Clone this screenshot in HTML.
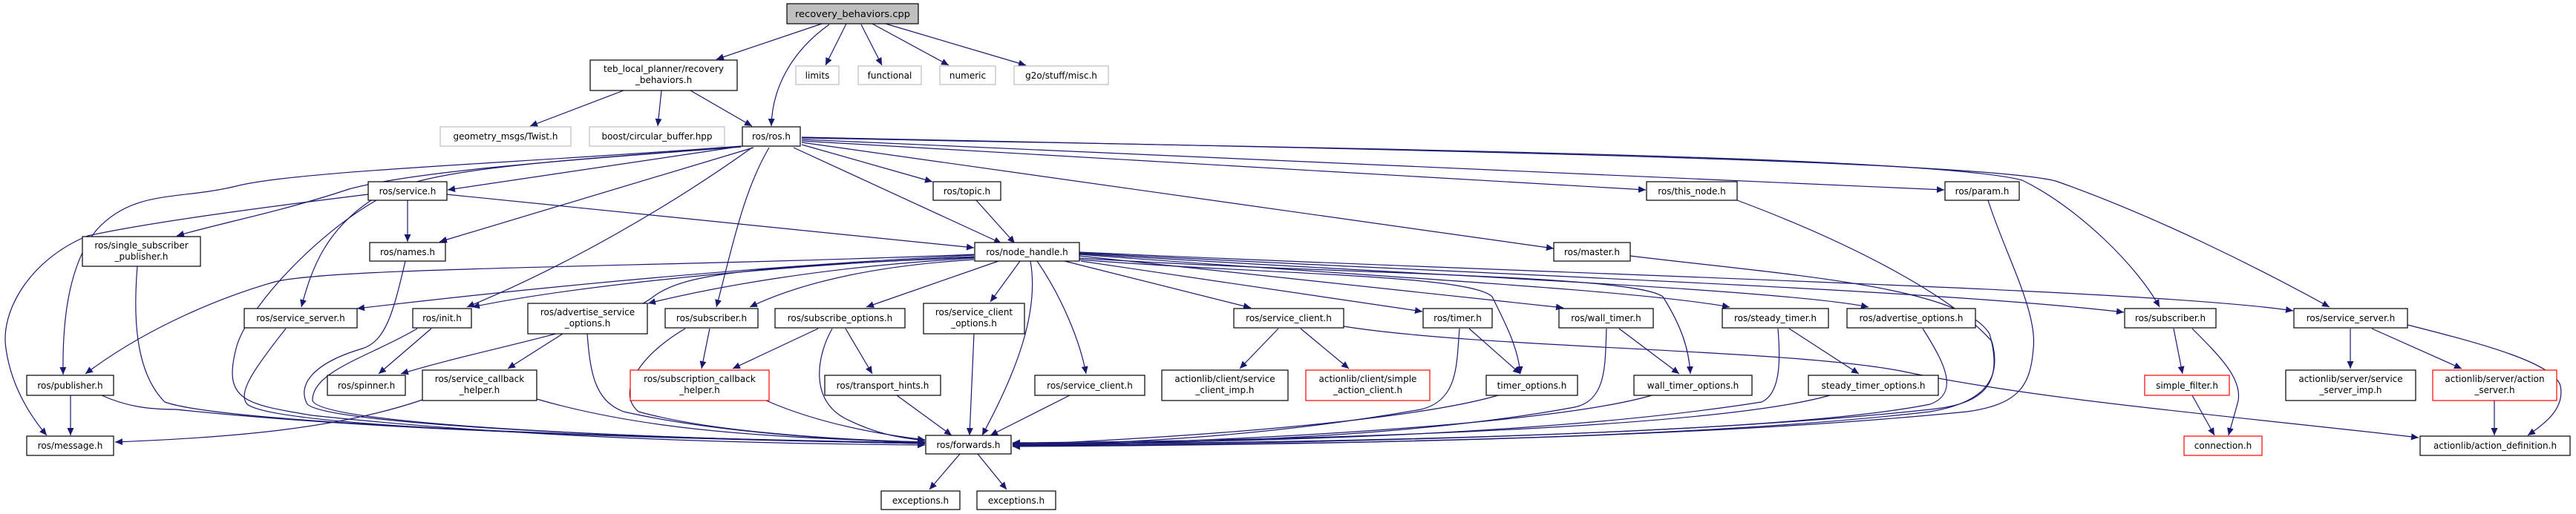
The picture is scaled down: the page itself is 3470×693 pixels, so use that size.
<!DOCTYPE html>
<html><head><meta charset="utf-8"><style>
html,body{margin:0;padding:0;background:#fff}
svg{display:block}
text{font-family:"DejaVu Sans","Liberation Sans",sans-serif;font-size:12px;fill:#000}
.e{fill:none;stroke:#191970;stroke-width:1.2}
.n{fill:#fff;stroke:#000;stroke-width:1.2}
.g{fill:#fff;stroke:#bfbfbf;stroke-width:1.2}
.r{fill:#fff;stroke:#ff0000;stroke-width:1.2}
</style></head><body>
<svg width="3470" height="693" viewBox="0 0 3470 693" xmlns="http://www.w3.org/2000/svg">
<defs><marker id="a" markerUnits="userSpaceOnUse" markerWidth="11" markerHeight="9" refX="10" refY="4.5" orient="auto"><path d="M0,0 L10,4.5 L0,9 z" fill="#191970"/></marker></defs>
<g marker-end="url(#a)">
<path class="e" d="M1107,32 L965,80"/>
<path class="e" d="M1117,33 C1065,70 1040,120 1039,170"/>
<path class="e" d="M1140,32 L1112,88"/>
<path class="e" d="M1160,33 L1188,88"/>
<path class="e" d="M1175,32 L1278,88"/>
<path class="e" d="M1193,32 L1382,88"/>
<path class="e" d="M840,122 L714,170"/>
<path class="e" d="M891,122 L886,170"/>
<path class="e" d="M930,122 L1013,170"/>
<path class="e" d="M1000,197 L603,256"/>
<path class="e" d="M1015,199 L592,326"/>
<path class="e" d="M998,198 C780,215 560,230 470,255 C380,285 300,300 238,318"/>
<path class="e" d="M998,197 C700,220 400,230 318,251 C240,270 180,255 130,310 C90,360 84,440 85,505"/>
<path class="e" d="M496,262 C350,280 200,300 118,318 C40,350 0,420 8,470 C15,520 40,560 63,587"/>
<path class="e" d="M998,198 C700,220 560,230 500,270 C440,310 420,360 406,414"/>
<path class="e" d="M601,262 L1312,334"/>
<path class="e" d="M507,270 C420,320 330,420 318,470 C300,540 330,545 420,560 C700,590 1000,598 1246,600"/>
<path class="e" d="M549,270 L549,326"/>
<path class="e" d="M1013,199 C900,280 760,360 629,414"/>
<path class="e" d="M1036,199 C1000,260 985,340 965,414"/>
<path class="e" d="M1069,199 L1349,328"/>
<path class="e" d="M1080,195 L1256,245"/>
<path class="e" d="M1315,270 L1367,328"/>
<path class="e" d="M1080,192 L2093,335"/>
<path class="e" d="M1080,190 L2217,256"/>
<path class="e" d="M1080,188 L2619,256"/>
<path class="e" d="M1080,186 C1800,200 2600,210 2724,243 C2800,280 2880,360 2909,414"/>
<path class="e" d="M1080,185 C1800,200 2650,215 2769,244 C2900,290 3040,360 3138,414"/>
<path class="e" d="M2340,270 C2500,330 2630,400 2683,460 C2700,520 2660,545 2600,555 C2300,590 1800,600 1364,601"/>
<path class="e" d="M2678,270 C2700,340 2745,420 2739,470 C2735,520 2720,545 2650,555 C2300,590 1800,600 1364,602"/>
<path class="e" d="M2196,345 C2400,370 2640,385 2680,450 C2700,520 2670,545 2600,552 C2300,585 1800,598 1364,601"/>
<path class="e" d="M2590,443 C2620,490 2640,530 2600,545 C2400,585 1800,597 1364,599"/>
<path class="e" d="M2395,443 C2398,480 2400,530 2373,542 C2100,585 1700,597 1364,598"/>
<path class="e" d="M2410,443 L2504,504"/>
<path class="e" d="M2465,533 C2300,580 1700,595 1364,597"/>
<path class="e" d="M1810,440 C2000,470 2400,470 2560,500 C2750,540 3000,560 3258,590"/>
<path class="e" d="M1722,443 L1670,497"/>
<path class="e" d="M1752,443 L1817,497"/>
<path class="e" d="M1979,443 L2048,504"/>
<path class="e" d="M1966,443 C1962,490 1965,540 1914,552 C1700,590 1500,598 1364,600"/>
<path class="e" d="M2181,443 L2262,504"/>
<path class="e" d="M2164,443 C2162,490 2165,540 2121,549 C1900,590 1600,598 1364,601"/>
<path class="e" d="M2018,533 C1960,550 1800,580 1364,600"/>
<path class="e" d="M2225,533 C2100,570 1700,595 1364,601"/>
<path class="e" d="M1454,350 C1700,370 1980,370 2010,400 C2030,440 2045,470 2048,504"/>
<path class="e" d="M1454,348 C1800,370 2200,370 2240,400 C2265,440 2275,470 2277,504"/>
<path class="e" d="M1434,352 L1685,415"/>
<path class="e" d="M1456,352 L1916,420"/>
<path class="e" d="M1454,345 L2106,415"/>
<path class="e" d="M1454,343 C1800,370 2200,390 2330,414"/>
<path class="e" d="M1454,342 C1900,370 2400,390 2517,414"/>
<path class="e" d="M1454,341 C2000,370 2600,390 2861,421"/>
<path class="e" d="M1454,340 C2100,370 2900,390 3089,419"/>
<path class="e" d="M1374,352 L1334,407"/>
<path class="e" d="M1397,352 C1430,400 1455,460 1463,504"/>
<path class="e" d="M1388,352 C1400,420 1370,500 1323,587"/>
<path class="e" d="M1312,450 L1306,587"/>
<path class="e" d="M1441,533 L1334,587"/>
<path class="e" d="M1208,533 L1282,587"/>
<path class="e" d="M1139,443 L1175,504"/>
<path class="e" d="M1102,443 L987,497"/>
<path class="e" d="M1121,443 C1100,480 1090,540 1140,565 C1180,585 1210,590 1246,594"/>
<path class="e" d="M956,443 L945,497"/>
<path class="e" d="M923,443 C860,480 830,530 860,555 C950,580 1100,592 1246,596"/>
<path class="e" d="M1032,540 C1100,570 1180,585 1246,593"/>
<path class="e" d="M758,450 L684,497"/>
<path class="e" d="M791,450 C795,500 800,540 840,555 C950,580 1100,592 1246,597"/>
<path class="e" d="M569,539 C450,580 300,590 155,596"/>
<path class="e" d="M723,538 C850,575 1000,590 1246,596"/>
<path class="e" d="M581,443 L510,504"/>
<path class="e" d="M562,443 C500,480 420,500 421,540 C430,570 800,590 1246,598"/>
<path class="e" d="M546,352 C530,420 520,460 488,470 C420,490 400,520 414,545 C440,570 800,590 1246,598"/>
<path class="e" d="M385,443 C340,500 320,530 333,545 C370,575 800,590 1246,598"/>
<path class="e" d="M185,359 C180,420 180,500 222,542 C300,570 800,590 1246,597"/>
<path class="e" d="M137,533 C170,548 200,552 237,552 C500,580 900,592 1246,597"/>
<path class="e" d="M95,533 L95,587"/>
<path class="e" d="M1312,343 C900,360 450,360 370,380 C300,400 200,440 115,504"/>
<path class="e" d="M1312,344 C1000,360 700,390 481,416"/>
<path class="e" d="M1312,346 C1000,360 750,390 636,414"/>
<path class="e" d="M1312,348 C1100,360 950,390 873,409"/>
<path class="e" d="M1312,350 C1150,360 1060,390 1010,414"/>
<path class="e" d="M1312,347 C1000,360 920,370 880,400 C830,440 650,470 540,504"/>
<path class="e" d="M1345,352 L1167,414"/>
<path class="e" d="M2928,443 L2940,504"/>
<path class="e" d="M2953,443 C2990,480 3020,510 3015,540 C3010,560 3005,575 3002,587"/>
<path class="e" d="M2953,533 L2983,587"/>
<path class="e" d="M3166,443 L3166,497"/>
<path class="e" d="M3195,443 L3316,497"/>
<path class="e" d="M3243,438 C3350,465 3440,490 3449,520 C3455,550 3430,570 3405,587"/>
<path class="e" d="M3360,540 L3360,587"/>
<path class="e" d="M1293,612 L1252,660"/>
<path class="e" d="M1317,612 L1356,660"/>
</g>
<g>
<rect x="1060" y="5" width="177" height="27" fill="#bfbfbf" stroke="#000" stroke-width="1.2"/><text x="1148.5" y="23" text-anchor="middle" textLength="155" lengthAdjust="spacingAndGlyphs">recovery_behaviors.cpp</text>
<rect class="n" x="795" y="81" width="198" height="41"/><text x="894" y="97" text-anchor="middle">teb_local_planner/recovery</text><text x="894" y="112" text-anchor="middle">_behaviors.h</text>
<rect class="g" x="1072" y="89" width="58" height="25"/><text x="1101" y="106" text-anchor="middle">limits</text>
<rect class="g" x="1156" y="89" width="85" height="25"/><text x="1198.5" y="106" text-anchor="middle">functional</text>
<rect class="g" x="1266" y="89" width="75" height="25"/><text x="1303.5" y="106" text-anchor="middle">numeric</text>
<rect class="g" x="1366" y="89" width="127" height="25"/><text x="1429.5" y="106" text-anchor="middle">g2o/stuff/misc.h</text>
<rect class="g" x="593" y="171" width="176" height="26"/><text x="681" y="188" text-anchor="middle">geometry_msgs/Twist.h</text>
<rect class="g" x="794" y="171" width="182" height="26"/><text x="885" y="188" text-anchor="middle">boost/circular_buffer.hpp</text>
<rect class="n" x="1000" y="171" width="78" height="26"/><text x="1039" y="188" text-anchor="middle">ros/ros.h</text>
<rect class="n" x="496" y="245" width="106" height="25"/><text x="549" y="262" text-anchor="middle">ros/service.h</text>
<rect class="n" x="1257" y="245" width="91" height="25"/><text x="1302.5" y="262" text-anchor="middle">ros/topic.h</text>
<rect class="n" x="2218" y="245" width="122" height="25"/><text x="2279" y="262" text-anchor="middle">ros/this_node.h</text>
<rect class="n" x="2620" y="245" width="100" height="25"/><text x="2670" y="262" text-anchor="middle">ros/param.h</text>
<rect class="n" x="111" y="319" width="159" height="40"/><text x="190.5" y="335" text-anchor="middle">ros/single_subscriber</text><text x="190.5" y="350" text-anchor="middle">_publisher.h</text>
<rect class="n" x="498" y="327" width="102" height="25"/><text x="549" y="344" text-anchor="middle">ros/names.h</text>
<rect class="n" x="1313" y="327" width="141" height="25"/><text x="1383.5" y="344" text-anchor="middle">ros/node_handle.h</text>
<rect class="n" x="2093" y="327" width="103" height="25"/><text x="2144.5" y="344" text-anchor="middle">ros/master.h</text>
<rect class="n" x="329" y="416" width="152" height="26"/><text x="405" y="433" text-anchor="middle">ros/service_server.h</text>
<rect class="n" x="556" y="416" width="79" height="26"/><text x="595.5" y="433" text-anchor="middle">ros/init.h</text>
<rect class="n" x="711" y="409" width="161" height="41"/><text x="791.5" y="425" text-anchor="middle">ros/advertise_service</text><text x="791.5" y="440" text-anchor="middle">_options.h</text>
<rect class="n" x="896" y="416" width="125" height="26"/><text x="958.5" y="433" text-anchor="middle">ros/subscriber.h</text>
<rect class="n" x="1044" y="416" width="175" height="26"/><text x="1131.5" y="433" text-anchor="middle">ros/subscribe_options.h</text>
<rect class="n" x="1244" y="409" width="136" height="41"/><text x="1312" y="425" text-anchor="middle">ros/service_client</text><text x="1312" y="440" text-anchor="middle">_options.h</text>
<rect class="n" x="1662" y="416" width="148" height="26"/><text x="1736" y="433" text-anchor="middle">ros/service_client.h</text>
<rect class="n" x="1917" y="416" width="93" height="26"/><text x="1963.5" y="433" text-anchor="middle">ros/timer.h</text>
<rect class="n" x="2100" y="416" width="127" height="26"/><text x="2163.5" y="433" text-anchor="middle">ros/wall_timer.h</text>
<rect class="n" x="2320" y="416" width="143" height="26"/><text x="2391.5" y="433" text-anchor="middle">ros/steady_timer.h</text>
<rect class="n" x="2488" y="416" width="173" height="26"/><text x="2574.5" y="433" text-anchor="middle">ros/advertise_options.h</text>
<rect class="n" x="2862" y="416" width="123" height="26"/><text x="2923.5" y="433" text-anchor="middle">ros/subscriber.h</text>
<rect class="n" x="3090" y="416" width="153" height="26"/><text x="3166.5" y="433" text-anchor="middle">ros/service_server.h</text>
<rect class="n" x="36" y="506" width="117" height="27"/><text x="94.5" y="524" text-anchor="middle">ros/publisher.h</text>
<rect class="n" x="441" y="506" width="105" height="27"/><text x="493.5" y="524" text-anchor="middle">ros/spinner.h</text>
<rect class="n" x="569" y="499" width="154" height="41"/><text x="646" y="515" text-anchor="middle">ros/service_callback</text><text x="646" y="530" text-anchor="middle">_helper.h</text>
<rect class="r" x="849" y="499" width="187" height="41"/><text x="942.5" y="515" text-anchor="middle">ros/subscription_callback</text><text x="942.5" y="530" text-anchor="middle">_helper.h</text>
<rect class="n" x="1111" y="506" width="156" height="27"/><text x="1189" y="524" text-anchor="middle">ros/transport_hints.h</text>
<rect class="n" x="1394" y="506" width="148" height="27"/><text x="1468" y="524" text-anchor="middle">ros/service_client.h</text>
<rect class="n" x="1565" y="499" width="170" height="41"/><text x="1650" y="515" text-anchor="middle">actionlib/client/service</text><text x="1650" y="530" text-anchor="middle">_client_imp.h</text>
<rect class="r" x="1759" y="499" width="167" height="41"/><text x="1842.5" y="515" text-anchor="middle">actionlib/client/simple</text><text x="1842.5" y="530" text-anchor="middle">_action_client.h</text>
<rect class="n" x="2002" y="506" width="123" height="27"/><text x="2063.5" y="524" text-anchor="middle">timer_options.h</text>
<rect class="n" x="2201" y="506" width="159" height="27"/><text x="2280.5" y="524" text-anchor="middle">wall_timer_options.h</text>
<rect class="n" x="2436" y="506" width="175" height="27"/><text x="2523.5" y="524" text-anchor="middle">steady_timer_options.h</text>
<rect class="r" x="2889" y="506" width="114" height="27"/><text x="2946" y="524" text-anchor="middle">simple_filter.h</text>
<rect class="n" x="3079" y="499" width="175" height="41"/><text x="3166.5" y="515" text-anchor="middle">actionlib/server/service</text><text x="3166.5" y="530" text-anchor="middle">_server_imp.h</text>
<rect class="r" x="3277" y="499" width="167" height="41"/><text x="3360.5" y="515" text-anchor="middle">actionlib/server/action</text><text x="3360.5" y="530" text-anchor="middle">_server.h</text>
<rect class="n" x="36" y="588" width="117" height="26"/><text x="94.5" y="605" text-anchor="middle">ros/message.h</text>
<rect class="n" x="1247" y="587" width="115" height="25"/><text x="1304.5" y="604" text-anchor="middle">ros/forwards.h</text>
<rect class="r" x="2942" y="588" width="105" height="26"/><text x="2994.5" y="605" text-anchor="middle">connection.h</text>
<rect class="n" x="3260" y="588" width="202" height="26"/><text x="3361" y="605" text-anchor="middle">actionlib/action_definition.h</text>
<rect class="n" x="1187" y="662" width="106" height="25"/><text x="1240" y="679" text-anchor="middle">exceptions.h</text>
<rect class="n" x="1316" y="662" width="106" height="25"/><text x="1369" y="679" text-anchor="middle">exceptions.h</text>
</g>
</svg>
</body></html>
